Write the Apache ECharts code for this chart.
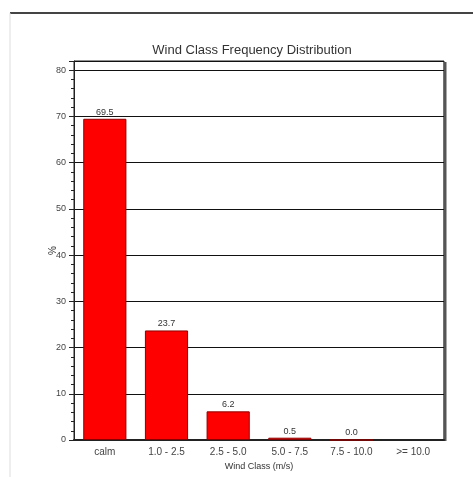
<!DOCTYPE html>
<html><head><meta charset="utf-8">
<script src="https://cdn.jsdelivr.net/npm/echarts@6/dist/echarts.min.js"></script>
<style>html,body{margin:0;padding:0;background:#fff}#c{width:473px;height:477px}</style>
</head><body><div id="c"></div>
<script>
var categories = ['calm', '1.0 - 2.5', '2.5 - 5.0', '5.0 - 7.5', '7.5 - 10.0', '>= 10.0'];
var frequency = [69.5, 23.7, 6.2, 0.5, 0.0, null];
var yTicks = [0, 10, 20, 30, 40, 50, 60, 70, 80];

var chart = echarts.init(document.getElementById('c'));
chart.setOption({
  backgroundColor: '#fff',
  animation: false,
  title: {
    text: 'Wind Class Frequency Distribution',
    left: 247, top: 39, textAlign: 'center',
    textStyle: {fontFamily: 'Liberation Sans', fontSize: 13, fontWeight: 'normal', color: '#333'}
  },
  graphic: [
    {type: 'line', shape: {x1: 10, y1: 13, x2: 473, y2: 13}, style: {stroke: '#444', lineWidth: 2}},
    {type: 'line', shape: {x1: 10, y1: 13, x2: 10, y2: 477}, style: {stroke: '#ddd', lineWidth: 1}},
    {type: 'line', shape: {x1: 445, y1: 62, x2: 445, y2: 441}, style: {stroke: '#555', lineWidth: 3}}
  ],
  grid: {left: 74, right: 29, top: 61, bottom: 37, show: true, borderColor: '#222', borderWidth: 1},
  xAxis: {
    type: 'category', data: categories,
    name: 'Wind Class (m/s)', nameLocation: 'middle', nameGap: 19,
    nameTextStyle: {fontFamily: 'Liberation Sans', fontSize: 9, color: '#333'},
    axisLine: {lineStyle: {color: '#222', width: 2}},
    axisTick: {alignWithLabel: true, length: 5, lineStyle: {color: '#222', width: 2}},
    axisLabel: {fontFamily: 'Liberation Sans', fontSize: 10, color: '#444', margin: 7, interval: 0}
  },
  yAxis: {
    type: 'value', min: 0, max: 82, interval: 10,
    name: '%', nameLocation: 'middle', nameGap: 16, nameRotate: 90, nameMoveOverlap: false,
    nameTextStyle: {fontFamily: 'Liberation Sans', fontSize: 10, color: '#333'},
    axisLine: {show: true, lineStyle: {color: '#222', width: 1}},
    axisTick: {show: true, length: 5, lineStyle: {color: '#222'}},
    minorTick: {show: true, splitNumber: 5, length: 3, lineStyle: {color: '#222'}},
    axisLabel: {fontFamily: 'Liberation Sans', fontSize: 9, color: '#444', margin: 8,
      formatter: function (v) { return yTicks.indexOf(v) >= 0 ? String(v) : ''; }},
    splitLine: {lineStyle: {color: '#111', width: 1}}
  },
  series: [{
    type: 'bar', data: frequency, barCategoryGap: '30%',
    itemStyle: {color: '#ff0000', borderColor: '#8a0000', borderWidth: 1},
    label: {show: true, position: 'top', distance: 2, fontFamily: 'Liberation Sans', fontSize: 9, color: '#333',
      formatter: function (p) { return p.value == null ? '' : p.value.toFixed(1); }}
  }]
});
</script></body></html>
